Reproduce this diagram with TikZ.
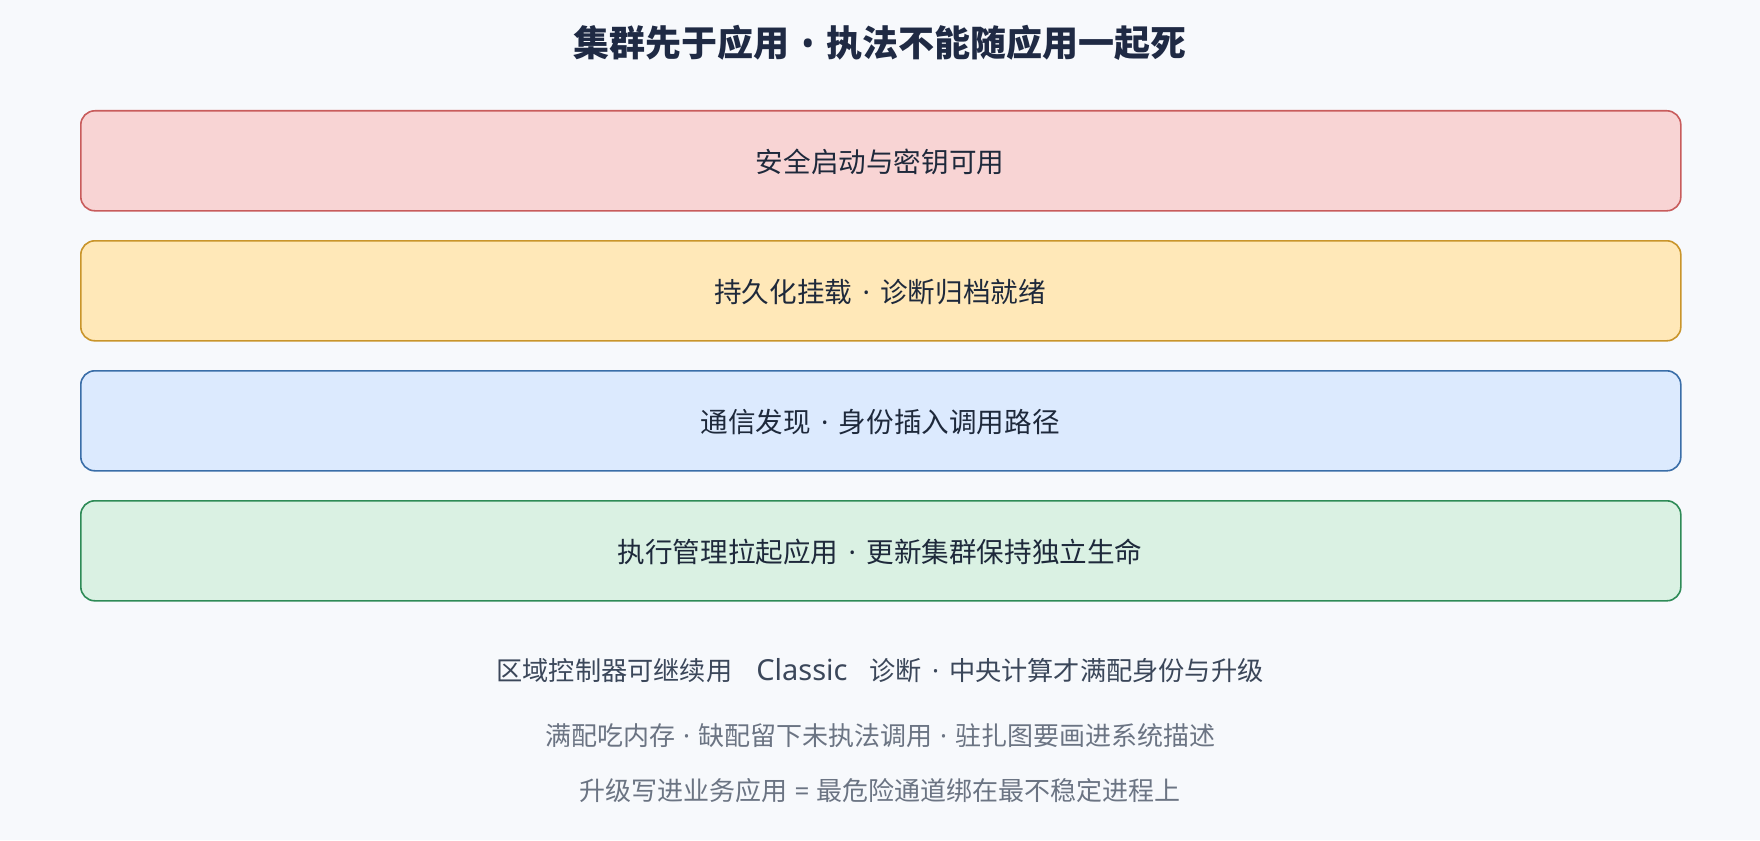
\documentclass[tikz,border=0pt]{standalone}
\usepackage{fontspec}
\setmainfont{Noto Sans CJK SC}
\newfontfamily\latinf{Noto Sans}
\definecolor{bgc}{HTML}{F7F9FC}
\definecolor{titlec}{HTML}{1F2A44}
\definecolor{boxtxt}{HTML}{1E293B}
\definecolor{noteA}{HTML}{3B475A}
\definecolor{noteB}{HTML}{6B7483}
\definecolor{redfill}{HTML}{F8D4D4}
\definecolor{reddraw}{HTML}{C85C5C}
\definecolor{yelfill}{HTML}{FFE8B8}
\definecolor{yeldraw}{HTML}{C9952B}
\definecolor{blufill}{HTML}{DCEAFE}
\definecolor{bludraw}{HTML}{3A6EA8}
\definecolor{grnfill}{HTML}{DAF1E3}
\definecolor{grndraw}{HTML}{2E8B57}
\newcommand\dotsepbig{\makebox[28pt]{\latinf ·}}
\newcommand\dotsepsmall{\makebox[23pt]{\latinf ·}}
\tikzset{
  layer/.style={draw, line width=1.6pt, rounded corners=14pt, minimum width=1600pt, minimum height=100pt, inner sep=0pt, anchor=north west},
  boxlabel/.style={anchor=base, inner sep=0pt, text=boxtxt, font=\fontsize{27.6}{30}\selectfont},
  noteone/.style={anchor=base, inner sep=0pt, text=noteA, font=\fontsize{26.2}{28}\selectfont},
  notetwo/.style={anchor=base, inner sep=0pt, text=noteB, font=\fontsize{26}{28}\selectfont},
}
\begin{document}
\begin{tikzpicture}[x=1pt,y=-1pt]
\fill[bgc] (0,0) rectangle (1760,840);
\useasboundingbox (0,0) rectangle (1760,840);
\node[anchor=base, inner sep=0pt, text=titlec, font=\fontsize{36}{40}\selectfont\bfseries] (title) at (880,57) {集群先于应用\makebox[37pt]{\latinf\bfseries •}执法不能随应用一起死};
\node[layer, fill=redfill, draw=reddraw] (b1) at (80,110) {};
\node[layer, fill=yelfill, draw=yeldraw] (b2) at (80,240) {};
\node[layer, fill=blufill, draw=bludraw] (b3) at (80,370) {};
\node[layer, fill=grnfill, draw=grndraw] (b4) at (80,500) {};
\node[boxlabel] (t1) at (880,172.5) {安全启动与密钥可用};
\node[boxlabel] (t2) at (880,302.5) {持久化挂载\dotsepbig 诊断归档就绪};
\node[boxlabel] (t3) at (880,432.5) {通信发现\dotsepbig 身份插入调用路径};
\node[boxlabel] (t4) at (880,562.5) {执行管理拉起应用\dotsepbig 更新集群保持独立生命};
\node[noteone] (n1) at (880,680.5) {区域控制器可继续用\hspace{24pt}{\latinf\fontsize{29}{30}\selectfont Classic}\hspace{22pt}诊断\makebox[27pt]{\latinf ·}中央计算才满配身份与升级};
\node[notetwo] (n2) at (880,745.5) {满配吃内存\dotsepsmall 缺配留下未执法调用\dotsepsmall 驻扎图要画进系统描述};
\node[notetwo] (n3) at (880,800.5) {升级写进业务应用\makebox[29pt]{\latinf =}最危险通道绑在最不稳定进程上};
\end{tikzpicture}
\end{document}
